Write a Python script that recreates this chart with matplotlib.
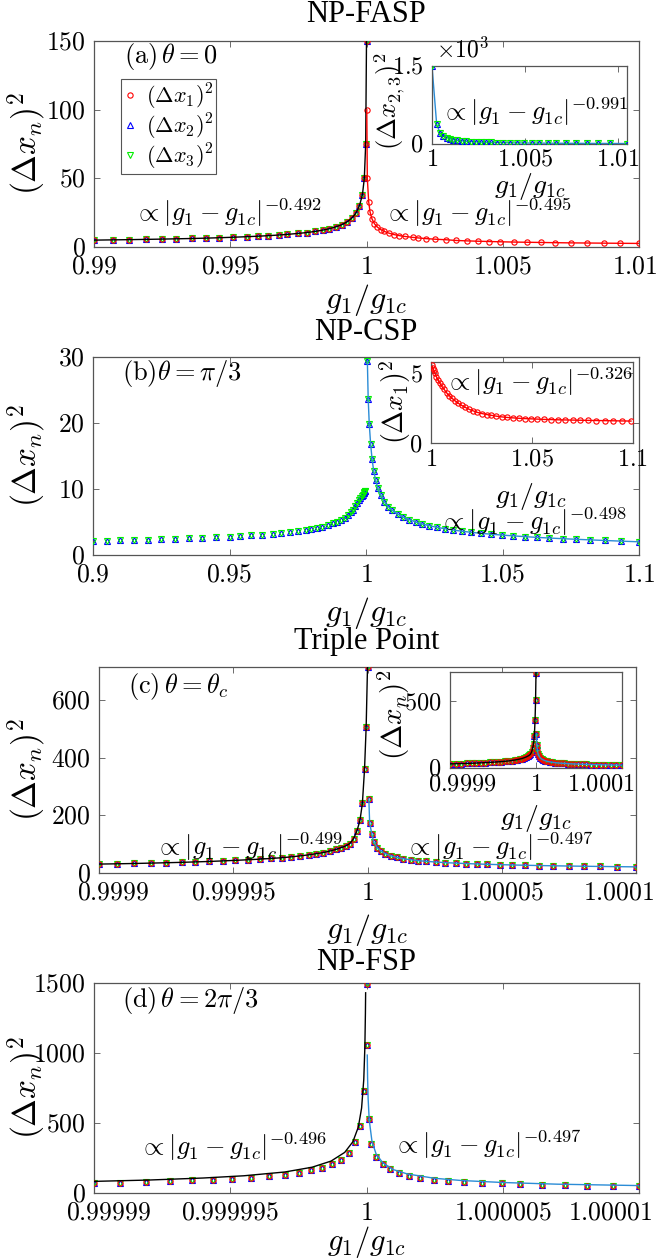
import numpy as np
import matplotlib
matplotlib.use('Agg')
import matplotlib.pyplot as plt
from matplotlib.lines import Line2D
from matplotlib.transforms import ScaledTranslation

plt.rcParams['mathtext.fontset'] = 'cm'
plt.rcParams['font.family'] = ['Liberation Serif', 'DejaVu Serif']

W, H = 659, 1260
RED, BLUE, GREEN = '#ff0000', '#0000ff', '#00ee00'
LBLUE = '#2b8cd6'
GRAY = '#555555'

# ---- data: deviations g1/g1c - 1 and variances ----
# (a) NP-FASP, theta = 0
a_dg_left = [-0.01, -0.0093, -0.0087, -0.0081, -0.0075, -0.007, -0.0064, -0.0059, -0.0054, -0.0049,
             -0.0044, -0.004, -0.0036, -0.0032, -0.0029, -0.0025, -0.0022, -0.0019, -0.0016, -0.00136,
             -0.00112, -0.00091, -0.00071, -0.00054, -0.00039, -0.00026, -0.00015, -0.00008, -0.00003, 0.0]
a_var_left = [5.0, 5.2, 5.35, 5.55, 5.75, 5.95, 6.2, 6.45, 6.75, 7.1,
              7.5, 7.85, 8.25, 8.75, 9.2, 9.9, 10.5, 11.3, 12.3, 13.3,
              14.7, 16.2, 18.3, 21.0, 24.6, 30.0, 38.0, 50.0, 75.0, 150.0]
a_dg_right = [0.00001, 0.00003, 0.00008, 0.00013, 0.0002, 0.00029, 0.0004, 0.00052, 0.00066, 0.00082,
              0.001, 0.0012, 0.0014, 0.0017, 0.0019, 0.0022, 0.0025, 0.0029, 0.0033, 0.0037,
              0.0041, 0.0045, 0.0049, 0.0054, 0.0059, 0.0064, 0.0069, 0.0075, 0.0081, 0.0087,
              0.0093, 0.01]
a_var1_right = [100, 50, 33, 25.5, 20.5, 17, 14.5, 12.7, 11.3, 10.1,
                9.1, 8.3, 7.7, 7.0, 6.6, 6.1, 5.7, 5.3, 4.75, 4.45,
                4.2, 4.0, 3.8, 3.6, 3.45, 3.3, 3.15, 3.0, 2.9, 2.8,
                2.7, 2.6]
# inset (a): (dx_2)^2 = (dx_3)^2 for g1 > g1c
ia_dg = [0.0, 0.00025, 0.00043, 0.00061, 0.00079, 0.00097, 0.00115, 0.00136, 0.0016, 0.00183,
         0.00208, 0.00235, 0.00262, 0.0029, 0.0032, 0.00351, 0.00384, 0.0042, 0.00455, 0.00495,
         0.00536, 0.00577, 0.00626, 0.0067, 0.00724, 0.00778, 0.00835, 0.00894, 0.00957, 0.0105]
ia_var23 = [1500, 385, 215, 155, 122, 100, 85, 71, 61, 53,
            47, 41, 37, 34, 30, 28, 25, 23, 21, 20,
            18, 17, 16, 14.5, 13.4, 12.5, 11.6, 10.9, 10.2, 9.2]

# (b) NP-CSP, theta = pi/3
b_dg_left = [-0.1, -0.095, -0.09, -0.085, -0.08, -0.075, -0.07, -0.065, -0.06, -0.055,
             -0.05, -0.046, -0.042, -0.038, -0.034, -0.031, -0.028, -0.025, -0.022, -0.02,
             -0.018, -0.016, -0.014, -0.012, -0.0105, -0.009, -0.0078, -0.0066, -0.0056, -0.0047,
             -0.0039, -0.0032, -0.0026, -0.0021, -0.0016, -0.0012, -0.0009, -0.0006, -0.0004, -0.0002]
b_var23_left = [2.15, 2.19, 2.24, 2.29, 2.34, 2.4, 2.46, 2.53, 2.61, 2.7,
                2.8, 2.89, 2.99, 3.1, 3.24, 3.36, 3.49, 3.64, 3.82, 3.96,
                4.12, 4.31, 4.54, 4.81, 5.07, 5.37, 5.67, 6.04, 6.44, 6.87,
                7.37, 7.95, 8.3, 8.6, 8.9, 9.15, 9.35, 9.5, 9.65, 9.75]
b_dg_right = [0.0005, 0.0008, 0.0012, 0.0017, 0.0022, 0.0028, 0.0035, 0.0043, 0.0054, 0.0066,
              0.0082, 0.0097, 0.0116, 0.0136, 0.0159, 0.0182, 0.0205, 0.0231, 0.0259, 0.029,
              0.032, 0.0351, 0.0385, 0.042, 0.0459, 0.0497, 0.0539, 0.0582, 0.0626, 0.0672,
              0.0721, 0.077, 0.0821, 0.0875, 0.0934, 0.1]
b_var23_right = [29.4, 23.7, 19.8, 16.8, 14.6, 12.8, 11.4, 10.2, 9.1, 8.1,
                 7.3, 6.75, 6.2, 5.75, 5.35, 5.0, 4.7, 4.45, 4.2, 3.97,
                 3.78, 3.6, 3.44, 3.29, 3.15, 3.02, 2.9, 2.78, 2.67, 2.57,
                 2.47, 2.38, 2.29, 2.2, 2.1, 2.0]
# inset (b): (dx_1)^2 for g1 > g1c
ib_dg = [0.0003, 0.0008, 0.0014, 0.002, 0.0027, 0.0035, 0.0044, 0.0054, 0.0065, 0.0077,
         0.009, 0.0104, 0.0119, 0.0135, 0.0152, 0.017, 0.0189, 0.0209, 0.023, 0.0252,
         0.0275, 0.0299, 0.0324, 0.035, 0.0377, 0.0405, 0.0434, 0.0464, 0.0495, 0.0527,
         0.056, 0.0594, 0.0629, 0.0665, 0.0702, 0.074, 0.0779, 0.0819, 0.086, 0.0902,
         0.0945, 0.099]
ib_var1 = [5.6, 5.4, 5.2, 4.98, 4.74, 4.5, 4.28, 4.05, 3.84, 3.6,
           3.4, 3.2, 3.02, 2.85, 2.69, 2.55, 2.41, 2.3, 2.19, 2.11,
           2.04, 1.98, 1.92, 1.87, 1.83, 1.8, 1.77, 1.75, 1.73, 1.71,
           1.69, 1.68, 1.66, 1.65, 1.64, 1.63, 1.62, 1.61, 1.6, 1.59,
           1.58, 1.57]

# (c) triple point, theta = theta_c
c_dg_left = [-1.0e-4, -0.933e-4, -0.87e-4, -0.808e-4, -0.75e-4, -0.692e-4, -0.641e-4, -0.589e-4,
             -0.539e-4, -0.492e-4, -0.445e-4, -0.402e-4, -0.359e-4, -0.32e-4, -0.284e-4, -0.25e-4,
             -0.219e-4, -0.191e-4, -0.164e-4, -0.141e-4, -0.117e-4, -0.098e-4, -0.081e-4, -0.066e-4,
             -0.052e-4, -0.039e-4, -0.028e-4, -0.019e-4, -0.011e-4, -0.005e-4, 0.0]
c_var_left = [31, 31.9, 33, 34.3, 35.6, 37, 38.5, 40.1,
              42, 43.9, 46, 48, 50.5, 53, 56, 59.5,
              63, 67, 71, 76, 82, 88, 94, 102,
              119, 147, 183, 242, 361, 507, 714]
c_dg_right = [0.005e-4, 0.008e-4, 0.016e-4, 0.023e-4, 0.036e-4, 0.05e-4, 0.066e-4, 0.086e-4,
              0.109e-4, 0.133e-4, 0.161e-4, 0.188e-4, 0.219e-4, 0.255e-4, 0.289e-4, 0.328e-4,
              0.367e-4, 0.406e-4, 0.445e-4, 0.492e-4, 0.539e-4, 0.586e-4, 0.638e-4, 0.692e-4,
              0.75e-4, 0.808e-4, 0.867e-4, 0.93e-4, 1.0e-4]
c_var_right = [257, 174, 135, 108, 88, 76, 67, 60,
               54, 49.5, 46, 43, 40.5, 38, 36, 34.3,
               32.8, 31.4, 30.2, 29, 27.9, 26.9, 25.9, 25,
               24.2, 23.4, 22.7, 22, 21.3]

# (d) NP-FSP, theta = 2pi/3
d_dg_left = [-1.0e-5, -0.904e-5, -0.81e-5, -0.72e-5, -0.64e-5, -0.563e-5, -0.493e-5, -0.424e-5,
             -0.359e-5, -0.3e-5, -0.248e-5, -0.202e-5, -0.162e-5, -0.125e-5, -0.094e-5, -0.066e-5,
             -0.043e-5, -0.025e-5, -0.011e-5, 0.0]
d_var_left = [72, 75, 80, 85, 90, 96, 102, 110,
              120, 131, 144, 161, 180, 204, 234, 288,
              362, 480, 730, 1493]
d_dg_right = [0.0003e-5, 0.009e-5, 0.017e-5, 0.036e-5, 0.059e-5, 0.087e-5, 0.118e-5, 0.156e-5,
              0.195e-5, 0.249e-5, 0.3e-5, 0.357e-5, 0.424e-5, 0.497e-5, 0.564e-5, 0.644e-5,
              0.729e-5, 0.811e-5, 0.904e-5, 1.0e-5]
d_var_right = [1054, 527, 350, 257, 204, 172, 145, 121,
               105, 94, 87, 80, 73.5, 68, 64, 60,
               56, 53, 50.5, 48]
d_fit_dg_left = [-1.0e-5, -0.8e-5, -0.6e-5, -0.45e-5, -0.3e-5, -0.2e-5, -0.13e-5,
                 -0.08e-5, -0.05e-5, -0.03e-5, -0.018e-5, -0.01e-5, -0.006e-5, -0.004e-5, -0.0032e-5]
d_fit_left = [83, 92.5, 107, 123, 150, 184, 228, 290, 366, 471, 607, 811, 1043, 1283, 1430]
d_fit_dg_right = [0.0028e-5, 0.004e-5, 0.006e-5, 0.01e-5, 0.02e-5, 0.035e-5, 0.06e-5,
                  0.1e-5, 0.15e-5, 0.25e-5, 0.35e-5, 0.5e-5, 0.7e-5, 1.0e-5]
d_fit_right = [985, 822, 673, 522, 370, 280, 215, 166, 136, 105, 89, 75, 63, 53]

XLAB = r'$g_1/g_{1c}$'
TICK_FS, INSET_TICK_FS = 18.5, 17.5


def g(dg):
    return 1.0 + np.asarray(dg)


def rect(l, t, r, b):
    return [l / W, 1 - b / H, (r - l) / W, (b - t) / H]


def to_axes(ax, px, py):
    return ax.transAxes.inverted().transform((px, H - py))


def style(ax, xlim, ylim, xt, xtl, yt, ytl, fs=TICK_FS, end_shift=(0, 0), xpad=7):
    ax.set_xlim(xlim)
    ax.set_ylim(ylim)
    ax.set_xticks(xt)
    ax.set_xticklabels(['$%s$' % s for s in xtl])
    ax.set_yticks(yt)
    ax.set_yticklabels(['$%s$' % s for s in ytl])
    ax.tick_params(direction='in', top=True, right=True, length=4, width=0.6,
                   color=GRAY, labelsize=fs)
    ax.tick_params(axis='x', pad=xpad)
    ax.tick_params(axis='y', pad=6)
    for s in ax.spines.values():
        s.set_color(GRAY)
        s.set_linewidth(0.9)
    # the end labels of the reference sit a little inside the axis ends
    labels = ax.get_xticklabels()
    for lab, dx in ((labels[0], end_shift[0]), (labels[-1], end_shift[1])):
        if dx:
            lab.set_transform(lab.get_transform() + ScaledTranslation(dx / 100, 0, fig.dpi_scale_trans))


def xlabel(ax, px, py, fs=23):
    ax.set_xlabel(XLAB, fontsize=fs, va='center')
    ax.xaxis.set_label_coords(*to_axes(ax, px, py))


def ylabel(ax, text, px, py, fs=24):
    ax.set_ylabel(text, fontsize=fs, va='center', ha='center')
    ax.yaxis.set_label_coords(*to_axes(ax, px, py))


def marks(ax, x, y, series=('b', 'g', 'r')):
    kw = dict(ls='none', ms=3.8, mew=0.8, mfc='none', zorder=3)
    if 'b' in series:
        ax.plot(x, y, marker='^', mec=BLUE, **kw)
    if 'g' in series:
        ax.plot(x, y, marker='v', mec=GREEN, **kw)
    if 'r' in series:
        ax.plot(x, y, marker='o', mec=RED, **kw)


def note(px, py, text, fs=19, ha='left'):
    fig.text(px / W, 1 - py / H, text, fontsize=fs, ha=ha, va='center')


def fit_text(p):
    return r'$\propto|g_1-g_{1c}|^{-%s}$' % p


fig = plt.figure(figsize=(W / 100, H / 100), dpi=100)

# ---------------- (a) ----------------
ax = fig.add_axes(rect(94, 41, 639, 247))
marks(ax, g(a_dg_left), a_var_left)
marks(ax, g(a_dg_right), a_var1_right, series=('r',))
ax.plot(g(a_dg_left), a_var_left, color='k', lw=1.0, zorder=4)
ax.plot(g(a_dg_right), a_var1_right, color=RED, lw=1.0, zorder=4)
style(ax, (0.99, 1.01), (0, 150), [0.99, 0.995, 1.0, 1.005, 1.01],
      ['0.99', '0.995', '1', '1.005', '1.01'], [0, 50, 100, 150], ['0', '50', '100', '150'],
      end_shift=(0, -4))
xlabel(ax, 366, 300)
ylabel(ax, r'$(\Delta x_n)^2$', 27, 144)
handles = [Line2D([], [], ls='none', marker='o', mec=RED, mfc='none', ms=3.8, mew=0.8),
           Line2D([], [], ls='none', marker='^', mec=BLUE, mfc='none', ms=3.8, mew=0.8),
           Line2D([], [], ls='none', marker='v', mec=GREEN, mfc='none', ms=3.8, mew=0.8)]
leg = ax.legend(handles, [r'$(\Delta x_1)^2$', r'$(\Delta x_2)^2$', r'$(\Delta x_3)^2$'],
                loc='upper left', bbox_to_anchor=to_axes(ax, 121, 79), borderaxespad=0,
                fontsize=16, handlelength=0.6, handletextpad=0.4, labelspacing=0.0,
                borderpad=0.12, fancybox=False, framealpha=1)
leg.get_frame().set_edgecolor(GRAY)
leg.get_frame().set_linewidth(0.8)
note(366, 15, 'NP-FASP', fs=22, ha='center')
note(124, 57, r'$\mathrm{(a)}\,\theta=0$')
note(134, 213, fit_text('0.492'))
note(384, 213, fit_text('0.495'))

ia = fig.add_axes(rect(432, 66, 627, 144))
marks(ia, g(ia_dg), ia_var23, series=('b', 'g'))
ia.plot(g(ia_dg), ia_var23, color=LBLUE, lw=1.0, zorder=2)
style(ia, (1.0, 1.0105), (0, 1500), [1.0, 1.005, 1.01], ['1', '1.005', '1.01'],
      [0, 1500], ['0', '1.5'], fs=INSET_TICK_FS, xpad=4)
xlabel(ia, 530, 186, fs=20)
ylabel(ia, r'$(\Delta x_{2,3})^2$', 390, 101, fs=19)
note(436, 50, r'$\times10^3$', fs=17)
note(441, 112, fit_text('0.991'))

# ---------------- (b) ----------------
ax = fig.add_axes(rect(93, 357, 639, 555))
marks(ax, g(b_dg_left), b_var23_left, series=('b', 'g'))
marks(ax, g(b_dg_right), b_var23_right, series=('g', 'b'))
ax.plot(g(b_dg_right), b_var23_right, color=LBLUE, lw=1.0, zorder=4)
style(ax, (0.9, 1.1), (0, 30), [0.9, 0.95, 1.0, 1.05, 1.1],
      ['0.9', '0.95', '1', '1.05', '1.1'], [0, 10, 20, 30], ['0', '10', '20', '30'])
xlabel(ax, 366, 613)
ylabel(ax, r'$(\Delta x_n)^2$', 27, 456)
note(366, 333, 'NP-CSP', fs=22, ha='center')
note(122, 373, r'$\mathrm{(b)}\theta=\pi/3$')
note(439, 522, fit_text('0.498'))

ib = fig.add_axes(rect(431, 362, 633, 443))
marks(ib, g(ib_dg), ib_var1, series=('r',))
ib.plot(g(ib_dg), ib_var1, color=RED, lw=1.0, zorder=2)
style(ib, (1.0, 1.1), (0, 5.8), [1.0, 1.05, 1.1], ['1', '1.05', '1.1'], [0, 5], ['0', '5'],
      fs=INSET_TICK_FS, xpad=5)
xlabel(ib, 531, 497, fs=20)
ylabel(ib, r'$(\Delta x_1)^2$', 395, 402, fs=20)
note(445, 382, fit_text('0.326'))

# ---------------- (c) ----------------
ax = fig.add_axes(rect(99, 667, 636, 873))
marks(ax, g(c_dg_left), c_var_left)
marks(ax, g(c_dg_right), c_var_right)
ax.plot(g(c_dg_left), c_var_left, color='k', lw=1.0, zorder=4)
ax.plot(g(c_dg_right), c_var_right, color=LBLUE, lw=1.0, zorder=4)
style(ax, (0.9999, 1.0001), (0, 715), [0.9999, 0.99995, 1.0, 1.00005, 1.0001],
      ['0.9999', '0.99995', '1', '1.00005', '1.0001'], [0, 200, 400, 600],
      ['0', '200', '400', '600'], end_shift=(14, -17))
xlabel(ax, 367, 930)
ylabel(ax, r'$(\Delta x_n)^2$', 27, 770)
note(367, 642, 'Triple Point', fs=22, ha='center')
note(128, 687, r'$\mathrm{(c)}\,\theta=\theta_c$')
note(155, 847, fit_text('0.499'))
note(405, 847, fit_text('0.497'))

ic = fig.add_axes(rect(450, 672, 622, 768))
marks(ic, g(c_dg_left), c_var_left)
marks(ic, g(c_dg_right), c_var_right)
ic.plot(g(c_dg_left), c_var_left, color='k', lw=1.0, zorder=4)
ic.plot(g(c_dg_right), c_var_right, color=LBLUE, lw=1.0, zorder=4)
style(ic, (0.9999, 1.0001), (0, 720), [0.9999, 1.0, 1.0001], ['0.9999', '1', '1.0001'],
      [0, 500], ['0', '500'], fs=INSET_TICK_FS, end_shift=(12, -21), xpad=5)
xlabel(ic, 536, 818, fs=20)
ylabel(ic, r'$(\Delta x_n)^2$', 394, 715, fs=21)

# ---------------- (d) ----------------
ax = fig.add_axes(rect(94, 983, 639, 1193))
marks(ax, g(d_dg_left), d_var_left)
marks(ax, g(d_dg_right), d_var_right)
ax.plot(g(d_fit_dg_left), d_fit_left, color='k', lw=1.0, zorder=4)
ax.plot(g(d_fit_dg_right), d_fit_right, color=LBLUE, lw=1.0, zorder=4)
style(ax, (0.99999, 1.00001), (0, 1500), [0.99999, 0.999995, 1.0, 1.000005, 1.00001],
      ['0.99999', '0.999995', '1', '1.000005', '1.00001'], [0, 500, 1000, 1500],
      ['0', '500', '1000', '1500'], end_shift=(15, -29))
xlabel(ax, 366, 1242, fs=22)
ylabel(ax, r'$(\Delta x_n)^2$', 27, 1088)
note(366, 962, 'NP-FSP', fs=22, ha='center')
note(122, 1000, r'$\mathrm{(d)}\,\theta=2\pi/3$')
note(139, 1147, fit_text('0.496'))
note(393, 1145, fit_text('0.497'))

fig.savefig('out.png', dpi=100)
